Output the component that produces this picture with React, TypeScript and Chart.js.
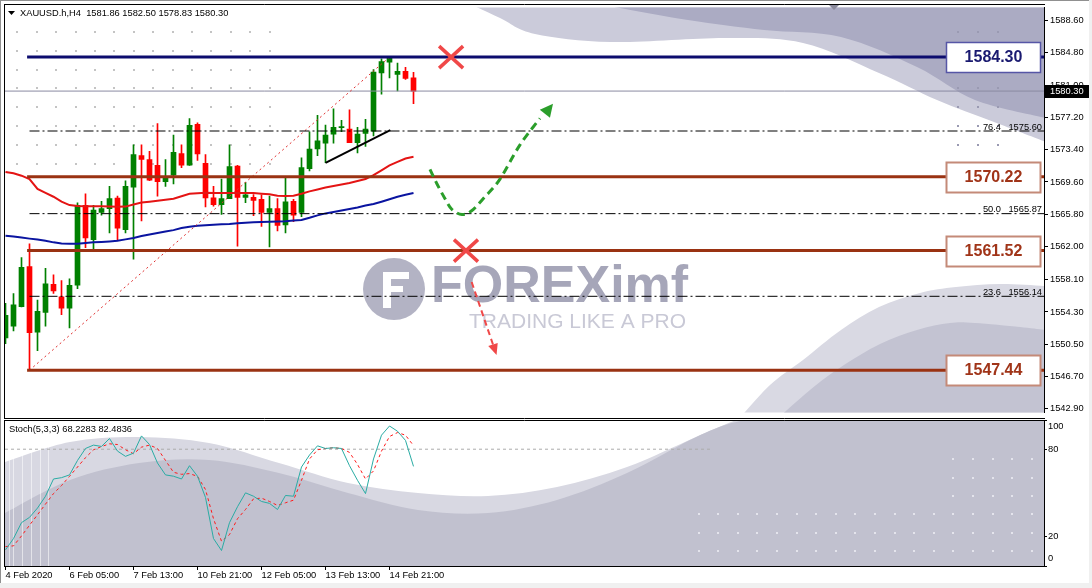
import React, { useEffect, useRef } from 'react';
import { Chart, registerables } from 'chart.js';

Chart.register(...registerables);

const FONT = '"Liberation Sans", Arial, sans-serif';
Chart.defaults.font.family = FONT;

// ---------------- data ----------------
const HEADER = 'XAUUSD.h,H4  1581.86 1582.50 1578.83 1580.30';
const STOCH_TITLE = 'Stoch(5,3,3) 68.2283 82.4836';

const OPEN = [1551.24, 1552.62, 1554.93, 1559.63, 1551.93, 1554.24, 1557.55, 1556.09, 1554.74, 1557.44,
  1566.85, 1562.82, 1566.01, 1566.47, 1567.71, 1563.97, 1568.98, 1572.71, 1572.24, 1571.55,
  1569.63, 1570.40, 1572.94, 1571.59, 1576.40, 1571.78, 1567.74, 1566.94, 1567.63, 1571.47,
  1567.78, 1567.78, 1567.55, 1566.01, 1566.47, 1564.55, 1567.32, 1566.01, 1571.17, 1573.48,
  1574.17, 1575.24, 1576.00, 1575.82, 1574.24, 1575.33, 1575.59, 1582.43, 1583.70, 1582.25,
  1582.63, 1581.86];
const HIGH = [1555.30, 1556.47, 1560.70, 1562.32, 1555.70, 1559.43, 1558.66, 1557.99, 1558.20, 1567.13,
  1568.21, 1566.85, 1567.32, 1569.09, 1567.94, 1569.74, 1573.97, 1573.97, 1573.20, 1576.48,
  1572.24, 1575.13, 1573.97, 1577.06, 1576.55, 1572.82, 1569.09, 1569.94, 1573.97, 1571.55,
  1569.55, 1568.12, 1568.09, 1567.94, 1567.63, 1570.13, 1567.55, 1572.44, 1575.51, 1577.44,
  1576.30, 1578.21, 1576.86, 1578.09, 1576.02, 1576.98, 1582.83, 1584.10, 1584.30, 1583.59,
  1583.09, 1582.50];
const LOW = [1550.55, 1552.05, 1554.90, 1547.44, 1549.74, 1552.62, 1556.47, 1553.97, 1552.43, 1557.05,
  1561.86, 1561.66, 1565.70, 1563.59, 1562.82, 1563.59, 1560.51, 1565.01, 1569.74, 1567.94,
  1569.09, 1569.36, 1571.29, 1571.55, 1572.13, 1566.67, 1566.74, 1565.78, 1567.63, 1562.05,
  1567.17, 1565.63, 1564.36, 1561.94, 1563.85, 1563.59, 1564.94, 1565.52, 1570.89, 1572.71,
  1571.86, 1574.17, 1575.51, 1574.24, 1573.02, 1573.78, 1575.01, 1579.94, 1581.86, 1580.32,
  1581.67, 1578.83];
const CLOSE = [1553.89, 1555.13, 1559.55, 1551.85, 1554.36, 1557.62, 1556.78, 1554.74, 1557.44, 1566.85,
  1563.01, 1566.28, 1566.47, 1567.63, 1564.17, 1569.09, 1572.82, 1572.24, 1569.82, 1569.63,
  1570.05, 1573.09, 1571.59, 1576.28, 1572.90, 1567.71, 1566.94, 1567.63, 1571.40, 1567.78,
  1568.09, 1567.43, 1566.01, 1566.47, 1564.47, 1567.25, 1565.70, 1571.29, 1573.48, 1574.44,
  1575.13, 1576.02, 1576.05, 1574.24, 1575.24, 1575.82, 1582.55, 1583.78, 1584.25, 1582.63,
  1581.79, 1580.30];

const MA_RED = [1570.78, 1570.63, 1570.34, 1569.94, 1568.78, 1568.32, 1567.86, 1567.28, 1566.88, 1566.76,
  1566.74, 1566.74, 1566.74, 1566.70, 1566.67, 1566.70, 1566.94, 1567.17, 1567.28, 1567.40,
  1567.51, 1567.63, 1567.92, 1568.21, 1568.26, 1568.32, 1568.29, 1568.29, 1568.29, 1568.29,
  1568.29, 1568.29, 1568.21, 1568.15, 1567.97, 1567.94, 1567.97, 1568.21, 1568.49, 1568.72,
  1568.95, 1569.13, 1569.30, 1569.47, 1569.71, 1569.94, 1570.40, 1570.97, 1571.55, 1571.96,
  1572.36, 1572.56];
const MA_BLUE = [1563.28, 1563.18, 1563.05, 1562.93, 1562.82, 1562.67, 1562.49, 1562.35, 1562.32, 1562.34,
  1562.41, 1562.49, 1562.53, 1562.59, 1562.67, 1562.84, 1563.01, 1563.24, 1563.42, 1563.59,
  1563.76, 1563.93, 1564.17, 1564.34, 1564.45, 1564.51, 1564.57, 1564.63, 1564.66, 1564.74,
  1564.80, 1564.86, 1564.89, 1564.93, 1564.94, 1564.97, 1565.05, 1565.12, 1565.38, 1565.67,
  1565.90, 1566.07, 1566.24, 1566.42, 1566.59, 1566.82, 1567.00, 1567.28, 1567.57, 1567.86,
  1568.09, 1568.29];

const STOCH_K = [11.1, 18.8, 29.7, 33.3, 39.7, 47.8, 59.6, 60.5, 62.4, 72.3,
  80.5, 82.8, 81.9, 87.3, 78.7, 75.1, 77.3, 89.1, 83.2, 70.5,
  62.4, 61.5, 59.6, 68.7, 61.5, 46.9, 18.8, 10.6, 29.7, 40.6,
  50.1, 47.8, 44.2, 42.9, 38.7, 48.3, 47.8, 67.8, 76.0, 82.3,
  80.5, 81.0, 80.5, 68.7, 58.7, 49.6, 73.3, 89.6, 95.9, 92.3,
  86.0, 68.23];
const STOCH_D = [13.3, 13.8, 20.6, 27.9, 35.1, 42.4, 49.6, 55.1, 61.4, 67.8,
  74.2, 79.6, 81.8, 83.7, 83.2, 79.6, 76.9, 81.4, 82.8, 80.5,
  72.3, 64.2, 62.8, 63.3, 61.4, 52.4, 32.4, 17.0, 21.5, 32.4,
  38.7, 46.0, 46.5, 44.2, 41.5, 43.3, 45.1, 58.7, 73.3, 79.6,
  80.5, 81.0, 80.5, 77.8, 69.6, 59.6, 65.1, 78.7, 88.7, 91.4,
  89.6, 82.48];
const STOCH_LEVEL = 80;
const STOCH_LEVEL_END = 88.3;

const X_TICK_INDEX = [0, 8, 16, 24, 32, 40, 48];
const X_TICK_LABELS = ['4 Feb 2020', '6 Feb 05:00', '7 Feb 13:00', '10 Feb 21:00', '12 Feb 05:00', '13 Feb 13:00', '14 Feb 21:00'];
const PRICE_TICKS = [1588.60, 1584.80, 1581.00, 1577.20, 1573.40, 1569.60, 1565.80, 1562.00, 1558.10, 1554.30, 1550.50, 1546.70, 1542.90];
const STOCH_TICKS = [100, 80, 20, 0];

const LEVELS = [1584.30, 1570.22, 1561.52, 1547.44];
const LEVEL_LABELS = ['1584.30', '1570.22', '1561.52', '1547.44'];
const LEVEL_FROM = 2.7;
const FIB_RATIOS = ['76.4', '50.0', '23.6'];
const FIB_PRICES = [1575.60, 1565.87, 1556.14];
const FIB_FROM = 3;
const SWING_X = [3, 48];
const SWING_Y = [1547.44, 1584.30];
const TREND_X = [40, 48.1];
const TREND_Y = [1571.86, 1575.70];
const CURRENT_PRICE = 1580.30;
const CROSS_X = [55.7, 57.56];
const CROSS_Y = [1584.30, 1561.52];
const GREEN_PATH_X = [53.06, 53.94, 54.94, 55.81, 57.06, 58.31, 59.94, 61.81, 64.31, 66.81, 68.44];
const GREEN_PATH_Y = [1571.09, 1569.36, 1567.63, 1566.36, 1565.78, 1566.24, 1567.86, 1569.94, 1573.97, 1577.09, 1578.82];
const RED_ARROW_X = [58.27, 61.38];
const RED_ARROW_Y = [1557.82, 1549.24];

// ---------------- layout / style ----------------
const X_MIN = -0.0625;
const X_MAX = 129.8125;
const Y_MIN = 1542.47;
const Y_MAX = 1590.13;
const UP = '#008000';
const DOWN = '#ff0000';
const NAVY = '#0c0c6e';
const BROWN = '#9a3212';
const BOX_L = 946;
const BOX_R = 1041;
const SMALL = `9.3px ${FONT}`;

const N = OPEN.length;
const IDX = Array.from({ length: N }, (_, i) => i);
const CANDLE_COLORS = IDX.map((i) => (CLOSE[i] >= OPEN[i] ? UP : DOWN));

type P = [number, number];

function smoothPath(ctx: CanvasRenderingContext2D, pts: P[]) {
  ctx.moveTo(pts[0][0], pts[0][1]);
  for (let i = 0; i < pts.length - 1; i++) {
    const p0 = pts[i - 1] || pts[i];
    const p1 = pts[i];
    const p2 = pts[i + 1];
    const p3 = pts[i + 2] || p2;
    ctx.bezierCurveTo(
      p1[0] + (p2[0] - p0[0]) / 6, p1[1] + (p2[1] - p0[1]) / 6,
      p2[0] - (p3[0] - p1[0]) / 6, p2[1] - (p3[1] - p1[1]) / 6,
      p2[0], p2[1]);
  }
}

function swoosh(ctx: CanvasRenderingContext2D, pts: P[], close: P[], color: string) {
  ctx.beginPath();
  smoothPath(ctx, pts);
  close.forEach((p) => ctx.lineTo(p[0], p[1]));
  ctx.closePath();
  ctx.fillStyle = color;
  ctx.fill();
}

function arrowHead(ctx: CanvasRenderingContext2D, from: P, to: P, len: number, half: number, color: string) {
  const a = Math.atan2(to[1] - from[1], to[0] - from[0]);
  const bx = to[0] - len * Math.cos(a);
  const by = to[1] - len * Math.sin(a);
  ctx.save();
  ctx.setLineDash([]);
  ctx.fillStyle = color;
  ctx.beginPath();
  ctx.moveTo(to[0], to[1]);
  ctx.lineTo(bx + half * Math.sin(a), by - half * Math.cos(a));
  ctx.lineTo(bx - half * Math.sin(a), by + half * Math.cos(a));
  ctx.closePath();
  ctx.fill();
  ctx.restore();
}

function dots(ctx: CanvasRenderingContext2D, xs: number[], ys: number[], color: string) {
  ctx.fillStyle = color;
  xs.forEach((x) => ys.forEach((y) => ctx.fillRect(Math.round(x) - 1, Math.round(y) - 1, 2, 2)));
}

const range = (a: number, step: number, n: number) => Array.from({ length: n }, (_, k) => a + step * k);

const mainDecor = {
  id: 'mainDecor',
  beforeDraw(chart: any) {
    const { ctx, chartArea: a } = chart;
    ctx.save();
    ctx.fillStyle = '#fff';
    ctx.fillRect(0, 0, chart.width, chart.height);
    ctx.beginPath();
    ctx.rect(a.left, a.top, a.right - a.left, a.bottom - a.top);
    ctx.clip();
    swoosh(ctx, [[470, 4], [500, 18], [535, 34], [611, 42], [726, 38], [803, 43], [879, 73], [937, 100], [994, 122], [1046, 142]], [[1046, 4]], '#cbcbda');
    swoosh(ctx, [[598, 4], [688, 20], [764, 30], [841, 37], [917, 67], [975, 100], [1046, 118]], [[1046, 4]], '#ababc3');
    swoosh(ctx, [[738, 420], [770, 385], [803, 360], [841, 330], [879, 307], [920, 293], [956, 287], [1000, 284], [1046, 286]], [[1046, 420]], '#d9d9e3');
    swoosh(ctx, [[776, 420], [810, 390], [841, 367], [880, 344], [917, 330], [950, 323], [975, 323], [1020, 327], [1046, 330]], [[1046, 420]], '#c3c3d2');
    const rows = range(31.7, 18.9, 8);
    dots(ctx, range(17.3, 19.4, 14), rows, '#c4c4c4');
    dots(ctx, [958, 978, 998], rows, '#9a9ab2');
    // watermark logo
    ctx.fillStyle = '#b3b3c4';
    ctx.beginPath();
    ctx.arc(394, 289, 31, 0, Math.PI * 2);
    ctx.fill();
    ctx.fillStyle = '#ffffff';
    ctx.fillRect(383, 272, 8, 36);
    ctx.fillRect(383, 272, 26, 7);
    ctx.fillRect(383, 286, 20, 6);
    ctx.fillStyle = '#a6a6b9';
    ctx.font = `bold 52px ${FONT}`;
    ctx.textBaseline = 'alphabetic';
    ctx.textAlign = 'left';
    ctx.fillText('FOREXimf', 431, 302);
    ctx.fillStyle = '#c9c9d6';
    ctx.font = `21px ${FONT}`;
    ctx.fillText('TRADING LIKE A PRO', 469, 328);
    ctx.restore();
  },
  afterDatasetsDraw(chart: any) {
    const { ctx } = chart;
    const sx = chart.scales.x;
    const sy = chart.scales.y;
    const pt = (x: number, y: number): P => [sx.getPixelForValue(x), sy.getPixelForValue(y)];
    ctx.save();
    // level boxes
    LEVELS.forEach((lv, k) => {
      const y = Math.round(sy.getPixelForValue(lv));
      const navy = k === 0;
      ctx.fillStyle = '#fff';
      ctx.fillRect(BOX_L, y - 15, BOX_R - BOX_L, 31);
      ctx.strokeStyle = navy ? '#5656a6' : '#c48a78';
      ctx.lineWidth = navy ? 1.5 : 2;
      ctx.strokeRect(BOX_L + 0.5, y - 15 + 0.5, BOX_R - BOX_L - 1, 30);
      ctx.fillStyle = navy ? '#1a1a70' : '#a03418';
      ctx.font = `bold 16px ${FONT}`;
      ctx.textAlign = 'center';
      ctx.textBaseline = 'middle';
      ctx.fillText(LEVEL_LABELS[k], (BOX_L + BOX_R) / 2, y + 1);
    });
    // fib labels
    ctx.font = SMALL;
    ctx.fillStyle = '#000';
    ctx.textBaseline = 'alphabetic';
    FIB_PRICES.forEach((fp, k) => {
      const y = sy.getPixelForValue(fp) - 1.5;
      ctx.textAlign = 'right';
      ctx.fillText(FIB_RATIOS[k], 1001, y);
      ctx.fillText(fp.toFixed(2), 1042, y);
    });
    // red crosses
    ctx.strokeStyle = '#f04848';
    ctx.lineWidth = 3.5;
    CROSS_X.forEach((cx, k) => {
      const [x, y] = pt(cx, CROSS_Y[k]);
      ctx.beginPath();
      ctx.moveTo(x - 12, y - 11);
      ctx.lineTo(x + 12, y + 11);
      ctx.moveTo(x + 12, y - 11);
      ctx.lineTo(x - 12, y + 11);
      ctx.stroke();
    });
    // green dashed curve
    const gp: P[] = GREEN_PATH_X.map((x, k) => pt(x, GREEN_PATH_Y[k]));
    ctx.strokeStyle = '#2b9e2b';
    ctx.lineWidth = 3;
    ctx.setLineDash([8, 5]);
    ctx.beginPath();
    smoothPath(ctx, gp.slice(0, gp.length - 1));
    ctx.stroke();
    arrowHead(ctx, gp[gp.length - 3], gp[gp.length - 1], 13, 6.5, '#2b9e2b');
    // red dashed arrow
    const r0 = pt(RED_ARROW_X[0], RED_ARROW_Y[0]);
    const r1 = pt(RED_ARROW_X[1], RED_ARROW_Y[1]);
    const ang = Math.atan2(r1[1] - r0[1], r1[0] - r0[0]);
    ctx.strokeStyle = '#f04848';
    ctx.lineWidth = 2;
    ctx.setLineDash([6, 4]);
    ctx.beginPath();
    ctx.moveTo(r0[0], r0[1]);
    ctx.lineTo(r1[0] - 9 * Math.cos(ang), r1[1] - 9 * Math.sin(ang));
    ctx.stroke();
    arrowHead(ctx, r0, r1, 11, 5, '#f04848');
    ctx.restore();
  },
  afterDraw(chart: any) {
    const { ctx } = chart;
    const sy = chart.scales.y;
    ctx.save();
    // borders
    ctx.strokeStyle = '#000';
    ctx.lineWidth = 1;
    ctx.beginPath();
    ctx.moveTo(4.5, 4); ctx.lineTo(4.5, 419);
    ctx.moveTo(4, 4.5); ctx.lineTo(1045, 4.5);
    ctx.moveTo(4, 418.5); ctx.lineTo(1045, 418.5);
    ctx.stroke();
    ctx.strokeStyle = '#909090';
    ctx.beginPath();
    ctx.moveTo(0.5, 0); ctx.lineTo(0.5, chart.height);
    ctx.moveTo(0, 0.5); ctx.lineTo(1092, 0.5);
    ctx.stroke();
    ctx.fillStyle = '#f0f0f0';
    ctx.fillRect(1089, 0, 3, chart.height);
    // chart shift marker
    ctx.fillStyle = '#8a8a9c';
    ctx.beginPath();
    ctx.moveTo(829, 5); ctx.lineTo(839, 5); ctx.lineTo(834, 10);
    ctx.closePath();
    ctx.fill();
    // header
    ctx.fillStyle = '#000';
    ctx.beginPath();
    ctx.moveTo(8, 11); ctx.lineTo(15, 11); ctx.lineTo(11.5, 15);
    ctx.closePath();
    ctx.fill();
    ctx.font = SMALL;
    ctx.textAlign = 'left';
    ctx.textBaseline = 'middle';
    ctx.fillText(HEADER, 20, 13);
    // current price tag
    const y = Math.round(sy.getPixelForValue(CURRENT_PRICE));
    ctx.fillStyle = '#000';
    ctx.fillRect(1045, y - 6, 44, 13);
    ctx.fillStyle = '#fff';
    ctx.fillText(CURRENT_PRICE.toFixed(2), 1050, y + 0.5);
    ctx.restore();
  },
};

const stochDecor = {
  id: 'stochDecor',
  beforeDraw(chart: any) {
    const { ctx, chartArea: a } = chart;
    ctx.save();
    ctx.fillStyle = '#fff';
    ctx.fillRect(0, 0, chart.width, chart.height);
    ctx.beginPath();
    ctx.rect(a.left, a.top, a.right - a.left, a.bottom - a.top);
    ctx.clip();
    swoosh(ctx, [[5, 43], [70, 23], [139, 18], [209, 24], [279, 44], [348, 64], [418, 74], [488, 77], [557, 68], [627, 48], [696, 18], [738, 0]], [[1046, 0], [1046, 150], [0, 150], [0, 43]], '#d8d8e2');
    swoosh(ctx, [[5, 94], [70, 61], [139, 44], [209, 41], [279, 54], [348, 74], [418, 91], [488, 94], [557, 81], [627, 54], [690, 21], [725, 6], [752, 0]], [[1046, 0], [1046, 150], [0, 150], [0, 94]], '#c1c1cf');
    ctx.strokeStyle = 'rgba(255,255,255,0.55)';
    ctx.lineWidth = 1;
    [9.5, 13.5, 22.5, 31.5, 40.5, 48.5].forEach((x) => {
      ctx.beginPath();
      ctx.moveTo(x, 25);
      ctx.lineTo(x, 150);
      ctx.stroke();
    });
    dots(ctx, range(698.5, 19.6, 18), [95.3, 113.7, 132], '#e4e4ec');
    dots(ctx, range(953.3, 19.6, 5), [40, 58.7, 77], '#e4e4ec');
    ctx.restore();
  },
  afterDraw(chart: any) {
    const { ctx, chartArea: a } = chart;
    const sy = chart.scales.y;
    ctx.save();
    ctx.strokeStyle = '#000';
    ctx.lineWidth = 1;
    ctx.beginPath();
    ctx.moveTo(4.5, 1); ctx.lineTo(4.5, a.bottom + 1);
    ctx.moveTo(4, 1.5); ctx.lineTo(1045, 1.5);
    ctx.stroke();
    ctx.strokeStyle = '#909090';
    ctx.beginPath();
    ctx.moveTo(0.5, 0); ctx.lineTo(0.5, chart.height);
    ctx.stroke();
    ctx.fillStyle = '#f0f0f0';
    ctx.fillRect(1089, 0, 3, chart.height);
    ctx.fillRect(0, 164, chart.width, 5);
    ctx.fillStyle = '#000';
    ctx.font = SMALL;
    ctx.textAlign = 'left';
    ctx.textBaseline = 'middle';
    ctx.fillText(STOCH_TITLE, 9, 10);
    STOCH_TICKS.forEach((v) => {
      const y = Math.min(Math.max(sy.getPixelForValue(v), a.top + 6), a.bottom - 7.5);
      ctx.fillText(String(v), 1048, y);
    });
    ctx.restore();
  },
};

function mainConfig(): any {
  const line = (xs: number[], ys: number[], color: string, width: number, dash: number[] = [], order = 2) => ({
    type: 'line',
    data: xs.map((x, k) => ({ x, y: ys[k] })),
    borderColor: color,
    borderWidth: width,
    borderDash: dash,
    pointRadius: 0,
    tension: 0,
    order,
  });
  const datasets: any[] = [];
  datasets.push(line([X_MIN, X_MAX], [CURRENT_PRICE, CURRENT_PRICE], '#8a8aa2', 1, [], 6));
  FIB_PRICES.forEach((fp) => datasets.push(line([FIB_FROM, X_MAX], [fp, fp], '#000', 1, [10, 3, 2, 3], 3)));
  datasets.push(line(SWING_X, SWING_Y, '#e03030', 1, [2, 3], 3));
  datasets.push(line(TREND_X, TREND_Y, '#000', 2, [], 3));
  LEVELS.forEach((lv, k) => datasets.push(line([LEVEL_FROM, X_MAX], [lv, lv], k === 0 ? NAVY : BROWN, 3, [], 1)));
  datasets.push(line(IDX, MA_RED, '#e41414', 2, [], 5));
  datasets.push(line(IDX, MA_BLUE, '#0a14a0', 2, [], 5));
  datasets.push({
    type: 'bar',
    data: IDX.map((i) => ({ x: i, y: [LOW[i], HIGH[i]] })),
    backgroundColor: CANDLE_COLORS,
    borderWidth: 0,
    barThickness: 1,
    grouped: false,
    order: 10,
  });
  datasets.push({
    type: 'bar',
    data: IDX.map((i) => ({ x: i, y: [OPEN[i], CLOSE[i]] })),
    backgroundColor: CANDLE_COLORS,
    borderWidth: 0,
    barThickness: 5,
    minBarLength: 1,
    grouped: false,
    order: 9,
  });
  return {
    type: 'bar',
    data: { datasets },
    options: {
      animation: false,
      responsive: false,
      devicePixelRatio: 1,
      layout: { padding: { left: 5, top: 5, right: 0, bottom: 2 } },
      plugins: { legend: { display: false }, tooltip: { enabled: false } },
      events: [],
      scales: {
        x: { type: 'linear', display: false, min: X_MIN, max: X_MAX, offset: false },
        y: {
          type: 'linear',
          position: 'right',
          min: Y_MIN,
          max: Y_MAX,
          afterBuildTicks: (s: any) => { s.ticks = PRICE_TICKS.map((v) => ({ value: v })); },
          afterFit: (s: any) => { s.width = 48; },
          ticks: {
            autoSkip: false,
            padding: 2,
            color: '#000',
            font: { size: 9.3, family: FONT },
            callback: (v: any) => Number(v).toFixed(2),
          },
          grid: { drawOnChartArea: false, drawTicks: true, tickLength: 4, color: '#000' },
          border: { display: true, color: '#000' },
        },
      },
    },
    plugins: [mainDecor],
  };
}

function stochConfig(): any {
  return {
    type: 'line',
    data: {
      datasets: [
        {
          data: [{ x: X_MIN, y: STOCH_LEVEL }, { x: STOCH_LEVEL_END, y: STOCH_LEVEL }],
          borderColor: '#ababab', borderWidth: 1, borderDash: [3, 3], pointRadius: 0, order: 3,
        },
        {
          data: IDX.map((i) => ({ x: i, y: STOCH_D[i] })),
          borderColor: '#ff1a1a', borderWidth: 1, borderDash: [3, 3], pointRadius: 0, tension: 0, order: 2,
        },
        {
          data: IDX.map((i) => ({ x: i, y: STOCH_K[i] })),
          borderColor: '#2aaca4', borderWidth: 1, pointRadius: 0, tension: 0, order: 1,
        },
      ],
    },
    options: {
      animation: false,
      responsive: false,
      devicePixelRatio: 1,
      layout: { padding: { left: 5, top: 1, right: 0, bottom: 0 } },
      plugins: { legend: { display: false }, tooltip: { enabled: false } },
      events: [],
      scales: {
        x: {
          type: 'linear',
          position: 'bottom',
          min: X_MIN,
          max: X_MAX,
          afterBuildTicks: (s: any) => { s.ticks = X_TICK_INDEX.map((v) => ({ value: v })); },
          afterFit: (s: any) => { s.height = 22; },
          ticks: {
            autoSkip: false,
            maxRotation: 0,
            minRotation: 0,
            align: 'start',
            padding: 0,
            color: '#000',
            font: { size: 9.3, family: FONT },
            callback: (v: any) => {
              const k = X_TICK_INDEX.indexOf(Number(v));
              return k >= 0 ? X_TICK_LABELS[k] : '';
            },
          },
          grid: { drawOnChartArea: false, drawTicks: true, tickLength: 4, color: '#000' },
          border: { display: true, color: '#000' },
        },
        y: {
          type: 'linear',
          position: 'right',
          min: 0,
          max: 100,
          afterBuildTicks: (s: any) => { s.ticks = STOCH_TICKS.map((v) => ({ value: v })); },
          afterFit: (s: any) => { s.width = 48; },
          ticks: { display: false },
          grid: { drawOnChartArea: false, drawTicks: true, tickLength: 3, color: '#000' },
          border: { display: true, color: '#000' },
        },
      },
    },
    plugins: [stochDecor],
  };
}

export default function App() {
  const mainRef = useRef<HTMLCanvasElement>(null);
  const stochRef = useRef<HTMLCanvasElement>(null);
  useEffect(() => {
    const c1 = new Chart(mainRef.current as HTMLCanvasElement, mainConfig());
    const c2 = new Chart(stochRef.current as HTMLCanvasElement, stochConfig());
    return () => {
      c1.destroy();
      c2.destroy();
    };
  }, []);
  return (
    <div style={{ position: 'fixed', left: 0, top: 0, width: 1092, height: 588, background: '#fff', overflow: 'hidden' }}>
      <canvas ref={mainRef} width={1092} height={420} style={{ position: 'absolute', left: 0, top: 0 }} />
      <canvas ref={stochRef} width={1092} height={169} style={{ position: 'absolute', left: 0, top: 419 }} />
    </div>
  );
}
